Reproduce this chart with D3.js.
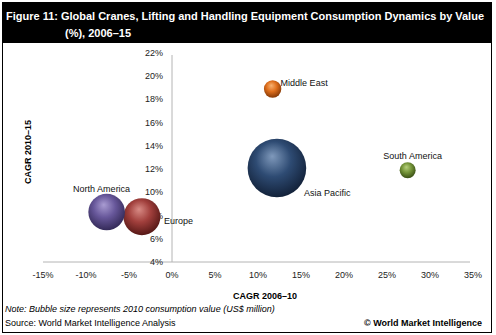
<!DOCTYPE html>
<html>
<head>
<meta charset="utf-8">
<script src="https://cdn.jsdelivr.net/npm/d3@7"></script>
<style>
  body { margin: 0; background: #fff; }
  text { font-family: "Liberation Sans", Arial, sans-serif; }
</style>
</head>
<body>
<div id="vis"></div>
<script>
const regions = ["North America", "Europe", "Middle East", "Asia Pacific", "South America"];
const cagr0610 = [-7.6, -3.5, 11.7, 12.2, 27.4];   // x, %
const cagr1015 = [8.3, 7.9, 18.9, 12.1, 11.9];     // y, %
const value2010 = [9750, 10000, 2200, 25000, 1860]; // bubble size, US$ million
const xTicks = [-15, -10, -5, 0, 5, 10, 15, 20, 25, 30, 35];
const yTicks = [4, 6, 8, 10, 12, 14, 16, 18, 20, 22];

const WIDTH = 496;
const HEIGHT = 335;

// sphere shading per region: highlight, base, rim
const SHADES = {
  "North America": ["#a99cd2", "#67579a", "#342a58"],
  "Europe": ["#d88b85", "#a13f3c", "#561816"],
  "Middle East": ["#f7b272", "#df6f1d", "#873a07"],
  "Asia Pacific": ["#7f99bb", "#2e4b73", "#13223a"],
  "South America": ["#b6d07c", "#759539", "#3a5015"]
};

// label placement relative to bubble centre
const LABELS = {
  "North America": { dx: -5, dy: -23, anchor: "middle" },
  "Europe": { dx: 22, dy: 4, anchor: "start" },
  "Middle East": { dx: 8, dy: -6, anchor: "start" },
  "Asia Pacific": { dx: 27, dy: 25, anchor: "start" },
  "South America": { dx: 5, dy: -14, anchor: "middle" }
};

const svg = d3.select("#vis")
  .append("svg")
  .attr("width", WIDTH)
  .attr("height", HEIGHT);

const defs = svg.append("defs");
regions.forEach((r, i) => {
  const g = defs.append("radialGradient")
    .attr("id", "ball" + i)
    .attr("cx", "46%").attr("cy", "40%").attr("r", "60%")
    .attr("fx", "42%").attr("fy", "30%");
  g.append("stop").attr("offset", "0%").attr("stop-color", SHADES[r][0]);
  g.append("stop").attr("offset", "50%").attr("stop-color", SHADES[r][1]);
  g.append("stop").attr("offset", "100%").attr("stop-color", SHADES[r][2]);
});

// frame and title band
svg.append("rect")
  .attr("x", 2.5).attr("y", 2.5)
  .attr("width", 489).attr("height", 330)
  .attr("fill", "none").attr("stroke", "#000");

svg.append("rect")
  .attr("x", 2).attr("y", 3)
  .attr("width", 490).attr("height", 40)
  .attr("fill", "#000");

const title = svg.append("text")
  .attr("fill", "#fff")
  .attr("font-weight", "bold")
  .attr("font-size", "11px");
title.append("tspan").attr("x", 6).attr("y", 20)
  .attr("textLength", 478)
  .attr("lengthAdjust", "spacingAndGlyphs")
  .text("Figure 11: Global Cranes, Lifting and Handling Equipment Consumption Dynamics by Value");
title.append("tspan").attr("x", 65).attr("y", 37)
  .text("(%), 2006\u201315");

const x = d3.scaleLinear().domain([-15, 35]).range([43, 473]);
const y = d3.scaleLinear().domain([4, 22]).range([262, 53]);
const size = d3.scaleSqrt().domain([0, d3.max(value2010)]).range([0, 29.3]);

// axes cross at x = 0% and y = 4%
svg.append("line")
  .attr("x1", x(-15)).attr("x2", x(35) - 3)
  .attr("y1", y(4)).attr("y2", y(4))
  .attr("stroke", "#b4b4b4");
svg.append("line")
  .attr("x1", x(0)).attr("x2", x(0))
  .attr("y1", y(22) + 2).attr("y2", y(4))
  .attr("stroke", "#b4b4b4");

svg.append("g")
  .selectAll("text")
  .data(xTicks)
  .enter()
  .append("text")
  .attr("x", (d) => x(d))
  .attr("y", 278)
  .attr("text-anchor", "middle")
  .attr("font-size", "9px")
  .attr("fill", "#222")
  .text((d) => d + "%");

svg.append("g")
  .selectAll("text")
  .data(yTicks)
  .enter()
  .append("text")
  .attr("x", 163)
  .attr("y", (d) => y(d) + 3)
  .attr("text-anchor", "end")
  .attr("font-size", "9px")
  .attr("fill", "#222")
  .text((d) => d + "%");

// bubbles, biggest first so small ones stay visible
const order = d3.range(regions.length).sort((a, b) => value2010[b] - value2010[a]);
svg.append("g")
  .selectAll("circle")
  .data(order)
  .enter()
  .append("circle")
  .attr("cx", (i) => x(cagr0610[i]))
  .attr("cy", (i) => y(cagr1015[i]))
  .attr("r", (i) => size(value2010[i]))
  .attr("fill", (i) => "url(#ball" + i + ")");

svg.append("g")
  .selectAll("text")
  .data(d3.range(regions.length))
  .enter()
  .append("text")
  .attr("x", (i) => x(cagr0610[i]) + LABELS[regions[i]].dx)
  .attr("y", (i) => y(cagr1015[i]) + LABELS[regions[i]].dy + 3)
  .attr("text-anchor", (i) => LABELS[regions[i]].anchor)
  .attr("font-size", "9px")
  .attr("fill", "#111")
  .text((i) => regions[i]);

// axis titles
svg.append("text")
  .attr("x", 265).attr("y", 299)
  .attr("text-anchor", "middle")
  .attr("font-size", "9px")
  .attr("font-weight", "bold")
  .text("CAGR 2006\u201310");

svg.append("text")
  .attr("transform", "translate(31,152) rotate(-90)")
  .attr("text-anchor", "middle")
  .attr("font-size", "9px")
  .attr("font-weight", "bold")
  .text("CAGR 2010\u201315");

// footer
svg.append("text")
  .attr("x", 5).attr("y", 312)
  .attr("font-size", "9px")
  .attr("font-style", "italic")
  .text("Note: Bubble size represents 2010 consumption value (US$ million)");

svg.append("text")
  .attr("x", 5).attr("y", 326)
  .attr("font-size", "9px")
  .text("Source: World Market Intelligence Analysis");

svg.append("text")
  .attr("x", 482).attr("y", 326)
  .attr("text-anchor", "end")
  .attr("font-size", "9px")
  .attr("font-weight", "bold")
  .text("\u00a9 World Market Intelligence");
</script>
</body>
</html>
